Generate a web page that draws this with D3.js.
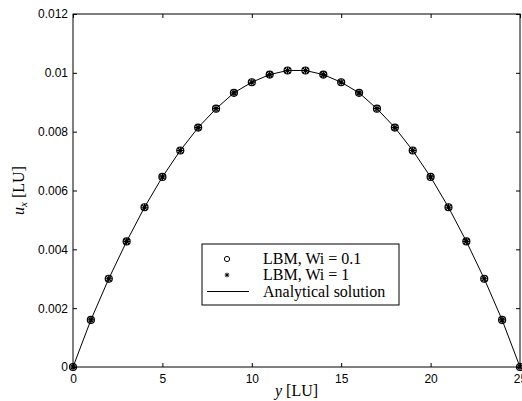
<!DOCTYPE html>
<html>
<head>
<meta charset="utf-8">
<script src="https://cdn.jsdelivr.net/npm/d3@7"></script>
<style>
  html, body { margin: 0; padding: 0; background: #fff; }
  svg { display: block; }
</style>
</head>
<body>
<script>
// channel positions (lattice units)
const yPositions = [0, 1, 2, 3, 4, 5, 6, 7, 8, 9, 10, 11, 12, 13, 14, 15, 16, 17, 18, 19, 20, 21, 22, 23, 24, 25];

// velocity
const uWi01 = [0, 0.0016, 0.0030, 0.00427, 0.00543, 0.00646, 0.00736, 0.00814, 0.00878, 0.00932, 0.00968, 0.00994, 0.01008,
  0.01008, 0.00994, 0.00968, 0.00932, 0.00878, 0.00814, 0.00736, 0.00646, 0.00543, 0.00427, 0.0030, 0.0016, 0];
const uWi1 = [0, 0.0016, 0.0030, 0.00427, 0.00543, 0.00646, 0.00736, 0.00814, 0.00878, 0.00932, 0.00968, 0.00994, 0.01008,
  0.01008, 0.00994, 0.00968, 0.00932, 0.00878, 0.00814, 0.00736, 0.00646, 0.00543, 0.00427, 0.0030, 0.0016, 0];
const uAnalytical = [0, 0.0016, 0.0030, 0.00427, 0.00543, 0.00646, 0.00736, 0.00814, 0.00878, 0.00932, 0.00968, 0.00994, 0.01008,
  0.01008, 0.00994, 0.00968, 0.00932, 0.00878, 0.00814, 0.00736, 0.00646, 0.00543, 0.00427, 0.0030, 0.0016, 0];

const xTicks = [0, 5, 10, 15, 20, 25];
const yTicks = [0, 0.002, 0.004, 0.006, 0.008, 0.01, 0.012];
const legendLabels = ["LBM, Wi = 0.1", "LBM, Wi = 1", "Analytical solution"];

const width = 522;
const height = 401;
const margin = { top: 14, right: 2, bottom: 34, left: 73 };

const x = d3.scaleLinear().domain([0, 25]).range([margin.left, width - margin.right]);
const y = d3.scaleLinear().domain([0, 0.012]).range([height - margin.bottom, margin.top]);

const svg = d3.select("body").append("svg")
  .attr("width", width)
  .attr("height", height)
  .attr("viewBox", `0 0 ${width} ${height}`);

const tickFont = "'Liberation Sans', Arial, sans-serif";
const serif = "'Liberation Serif', 'Times New Roman', serif";
const tickLen = 4;

// axes with inward ticks, MATLAB style
svg.append("g")
  .attr("transform", `translate(0,${y(0)})`)
  .call(d3.axisBottom(x).tickValues(xTicks).tickSize(-tickLen).tickPadding(7).tickFormat(d3.format("d")))
  .call((g) => g.select(".domain").remove())
  .call((g) => g.selectAll("text").attr("font-family", tickFont).attr("font-size", 12).attr("fill", "#000"));

svg.append("g")
  .attr("transform", `translate(0,${y(0.012)})`)
  .call(d3.axisTop(x).tickValues(xTicks).tickSize(-tickLen).tickFormat(""))
  .call((g) => g.select(".domain").remove());

svg.append("g")
  .attr("transform", `translate(${x(0)},0)`)
  .call(d3.axisLeft(y).tickValues(yTicks).tickSize(-tickLen).tickPadding(5).tickFormat((d) => (d === 0 ? "0" : String(+d.toFixed(3)))))
  .call((g) => g.select(".domain").remove())
  .call((g) => g.selectAll("text").attr("font-family", tickFont).attr("font-size", 12).attr("fill", "#000"));

svg.append("g")
  .attr("transform", `translate(${x(25)},0)`)
  .call(d3.axisRight(y).tickValues(yTicks).tickSize(-tickLen).tickFormat(""))
  .call((g) => g.select(".domain").remove());

svg.selectAll(".tick line").attr("stroke", "#000");

// plot box
svg.append("rect")
  .attr("x", x(0))
  .attr("y", y(0.012))
  .attr("width", x(25) - x(0))
  .attr("height", y(0) - y(0.012))
  .attr("fill", "none")
  .attr("stroke", "#000")
  .attr("stroke-width", 1);

// analytical line
const line = d3.line()
  .x((d, i) => x(yPositions[i]))
  .y((d) => y(d));

svg.append("path")
  .datum(uAnalytical)
  .attr("d", line)
  .attr("fill", "none")
  .attr("stroke", "#000")
  .attr("stroke-width", 1);

// asterisk marker path
const star = (s) => {
  const d = s * Math.SQRT1_2;
  return `M${-s},0L${s},0M0,${-s}L0,${s}M${-d},${-d}L${d},${d}M${-d},${d}L${d},${-d}`;
};

svg.append("g")
  .selectAll("circle")
  .data(uWi01)
  .join("circle")
  .attr("cx", (d, i) => x(yPositions[i]))
  .attr("cy", (d) => y(d))
  .attr("r", 3.5)
  .attr("fill", "none")
  .attr("stroke", "#000")
  .attr("stroke-width", 1.2);

svg.append("g")
  .selectAll("path")
  .data(uWi1)
  .join("path")
  .attr("transform", (d, i) => `translate(${x(yPositions[i])},${y(d)})`)
  .attr("d", star(3.4))
  .attr("fill", "none")
  .attr("stroke", "#000")
  .attr("stroke-width", 1.2);

// legend
const legend = svg.append("g").attr("transform", "translate(202,244)");
legend.append("rect")
  .attr("width", 197)
  .attr("height", 61)
  .attr("fill", "#fff")
  .attr("stroke", "#000")
  .attr("stroke-width", 1);

const rowY = [15, 31, 47.5];
legend.append("circle")
  .attr("cx", 25).attr("cy", rowY[0]).attr("r", 2.6)
  .attr("fill", "none").attr("stroke", "#000");
legend.append("path")
  .attr("transform", `translate(25,${rowY[1]})`)
  .attr("d", star(2.3))
  .attr("stroke", "#000");
legend.append("line")
  .attr("x1", 5).attr("x2", 47).attr("y1", rowY[2]).attr("y2", rowY[2])
  .attr("stroke", "#000");

legend.selectAll("text")
  .data(legendLabels)
  .join("text")
  .attr("x", 61)
  .attr("y", (d, i) => rowY[i] + 5)
  .attr("font-family", serif)
  .attr("font-size", 16)
  .text((d) => d);

// axis titles
const xTitle = svg.append("text")
  .attr("x", (x(0) + x(25)) / 2)
  .attr("y", 396)
  .attr("text-anchor", "middle")
  .attr("font-family", serif)
  .attr("font-size", 16);
xTitle.append("tspan").attr("font-style", "italic").text("y");
xTitle.append("tspan").text(" [LU]");

const yTitle = svg.append("text")
  .attr("transform", `translate(24,${(y(0) + y(0.012)) / 2}) rotate(-90)`)
  .attr("text-anchor", "middle")
  .attr("font-family", serif)
  .attr("font-size", 16);
yTitle.append("tspan").attr("font-style", "italic").text("u");
yTitle.append("tspan").attr("font-style", "italic").attr("font-size", 11).attr("dy", 3).text("x");
yTitle.append("tspan").attr("dy", -3).text(" [LU]");
</script>
</body>
</html>
